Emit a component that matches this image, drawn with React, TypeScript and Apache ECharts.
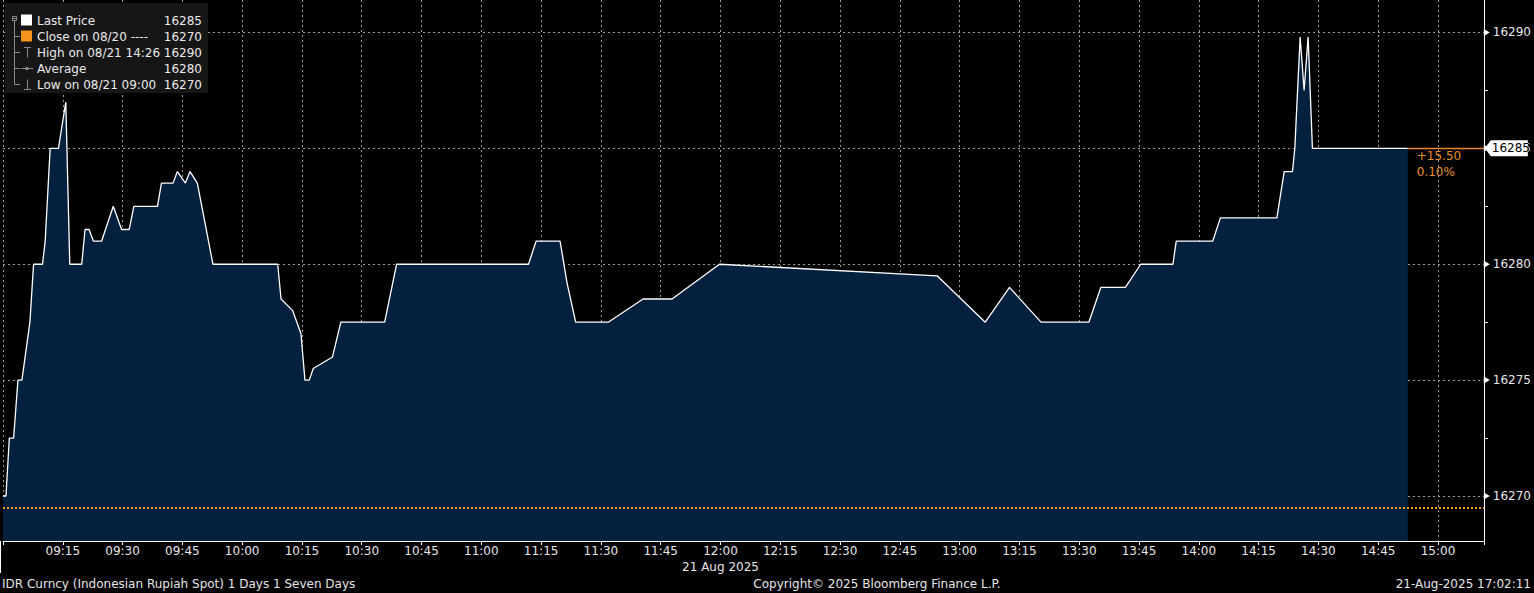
import React, { useEffect, useRef } from "react";
import * as echarts from "echarts";

// ---- data ----
const times = [
  "09:00:00", "09:00:45", "09:01:35", "09:02:40", "09:03:45", "09:04:45", "09:06:45", "09:07:40",
  "09:09:55", "09:10:35", "09:11:50", "09:13:55", "09:15:45", "09:16:45", "09:19:45", "09:20:35",
  "09:21:35", "09:22:40", "09:24:45", "09:27:40", "09:29:45", "09:31:40", "09:32:50", "09:38:45",
  "09:39:45", "09:42:40", "09:43:45", "09:45:45", "09:46:55", "09:48:45", "09:52:40", "10:08:55",
  "10:09:45", "10:12:40", "10:14:45", "10:15:45", "10:16:50", "10:17:50", "10:22:40", "10:24:45",
  "10:35:45", "10:38:45", "11:11:50", "11:13:45", "11:19:45", "11:21:30", "11:23:40", "11:31:50",
  "11:40:35", "11:47:50", "11:59:45", "12:54:20", "13:06:25", "13:12:30", "13:20:25", "13:32:25",
  "13:35:25", "13:41:35", "13:45:25", "13:53:30", "13:54:20", "14:03:30", "14:05:25", "14:19:35",
  "14:21:25", "14:23:30", "14:24:05", "14:25:25", "14:26:25", "14:27:25", "14:28:30", "14:52:25",
];
const prices = [
  16270, 16270, 16272.5, 16272.5, 16275, 16275, 16277.5, 16280,
  16280, 16281, 16285, 16285, 16287, 16280, 16280, 16281.5,
  16281.5, 16281, 16281, 16282.5, 16281.5, 16281.5, 16282.5, 16282.5,
  16283.5, 16283.5, 16284, 16283.5, 16284, 16283.5, 16280, 16280,
  16278.5, 16278, 16277, 16275, 16275, 16275.5, 16276, 16277.5,
  16277.5, 16280, 16280, 16281, 16281, 16279.2, 16277.5, 16277.5,
  16278.5, 16278.5, 16280, 16279.5, 16277.5, 16279, 16277.5, 16277.5,
  16279, 16279, 16280, 16280, 16281, 16281, 16282, 16282,
  16284, 16284, 16285, 16289.8, 16287.5, 16289.8, 16285, 16285,
];
const yTicks = [16270, 16275, 16280, 16285, 16290];
const yMinorTicks = [16272.5, 16277.5, 16282.5, 16287.5];
const closePrice = 16269.5;
const lastPrice = 16285;
const changeText = ["+15.50", "0.10%"];
const legendNames = ["Last Price", "Close on 08/20 ----", "High on 08/21 14:26", "Average", "Low on 08/21 09:00"];
const legendValues = ["16285", "16270", "16290", "16280", "16270"];
const dateLabel = "21 Aug 2025";
const footerLeft = "IDR Curncy (Indonesian Rupiah Spot) 1 Days 1 Seven Days";
const footerMid = "Copyright\u00a9 2025 Bloomberg Finance L.P.";
const footerRight = "21-Aug-2025 17:02:11";

const toMin = (t: string) => {
  const [h, m, s] = t.split(":").map(Number);
  return (h - 9) * 60 + m + (s || 0) / 60;
};
const fmtMin = (v: number) => {
  const h = 9 + Math.floor(v / 60);
  const m = Math.round(v % 60);
  return `${String(h).padStart(2, "0")}:${String(m).padStart(2, "0")}`;
};

const FONT = "DejaVu Sans";
const ORANGE = "#f39a2b";
const GRIDC = "#999999";

export default function App() {
  const ref = useRef<HTMLDivElement>(null);
  useEffect(() => {
    if (!ref.current) return;
    const chart = echarts.init(ref.current, null, { renderer: "svg" });
    const data = times.map((t, i) => [toMin(t), prices[i]]);
    const lastT = toMin(times[times.length - 1]);
    const xMax = 371.5;
    chart.setOption({
      animation: false,
      backgroundColor: "#000",
      grid: { left: 1, right: 47, top: 0, bottom: 52, containLabel: false },
      xAxis: {
        type: "value",
        min: 0,
        max: xMax,
        interval: 15,
        axisLine: { show: true, onZero: false, lineStyle: { color: "#fff", width: 1 } },
        axisTick: { show: true, length: 4, lineStyle: { color: "#fff" } },
        axisLabel: {
          color: "#e6e6e6",
          fontSize: 12,
          fontFamily: FONT,
          margin: 4,
          formatter: (v: number) => (v > 0 && Math.abs(v % 15) < 1e-6 ? fmtMin(v) : ""),
        },
        splitLine: { show: true, showMaxLine: false, lineStyle: { color: GRIDC, type: [2, 3], width: 1 } },
      },
      yAxis: {
        type: "value",
        position: "right",
        min: 16268.058,
        max: 16291.402,
        splitNumber: 5,
        minInterval: 5,
        maxInterval: 5,
        axisLine: { show: true, onZero: false, lineStyle: { color: "#fff", width: 1 } },
        axisTick: { show: false },
        axisLabel: {
          color: "#e6e6e6",
          fontSize: 12,
          fontFamily: FONT,
          margin: 9,
          formatter: (v: number) => (yTicks.some((t) => Math.abs(t - v) < 1e-6) ? String(Math.round(v)) : ""),
        },
        splitLine: { show: true, showMinLine: false, showMaxLine: false, lineStyle: { color: GRIDC, type: [2, 3], width: 1 } },
      },
      series: [
        {
          type: "line",
          data,
          showSymbol: false,
          symbol: "none",
          lineStyle: { color: "#ffffff", width: 1.3 },
          areaStyle: { color: "#03203f", opacity: 1, origin: "start" },
          z: 3,
          markLine: {
            silent: true,
            symbol: ["none", "none"],
            label: { show: false },
            data: [
              { yAxis: closePrice, lineStyle: { color: ORANGE, type: [2, 2], width: 2 } },
              [
                { coord: [lastT, lastPrice], lineStyle: { color: "#e8862a", type: "solid", width: 1.3 } },
                { coord: [xMax, lastPrice] },
              ],
            ],
          },
        },
      ],
    });

    const px = (x: number, y: number) => chart.convertToPixel({ gridIndex: 0 }, [x, y]) as number[];
    const axisX = px(xMax, lastPrice)[0];
    const bottomY = px(0, 16268.058)[1];
    const g: any[] = [];

    // y-axis tick triangles
    yTicks.forEach((t) => {
      const y = px(0, t)[1];
      g.push({
        type: "polygon",
        shape: { points: [[axisX, y - 3.5], [axisX + 6, y], [axisX, y + 3.5]] },
        style: { fill: "#fff" },
        z: 10,
      });
    });
    yMinorTicks.forEach((t) => {
      const y = Math.round(px(0, t)[1]) + 0.5;
      g.push({ type: "line", shape: { x1: axisX, y1: y, x2: axisX + 4, y2: y }, style: { stroke: "#fff", lineWidth: 1 }, z: 10 });
    });

    // last price tag
    const ly = px(0, lastPrice)[1];
    g.push({
      type: "polygon",
      shape: { points: [[axisX + 1, ly], [axisX + 7, ly - 8], [axisX + 44, ly - 8], [axisX + 44, ly + 8], [axisX + 7, ly + 8]] },
      style: { fill: "#ffffff" },
      z: 20,
    });
    g.push({
      type: "text",
      x: axisX + 8,
      y: ly,
      style: { text: String(lastPrice), fill: "#000", fontSize: 12, fontFamily: FONT, verticalAlign: "middle" },
      z: 21,
    });
    const lp = px(lastT, lastPrice);
    changeText.forEach((s, i) => {
      g.push({
        type: "text",
        x: lp[0] + 9,
        y: lp[1] + 8 + i * 16,
        style: { text: s, fill: "#e8922e", fontSize: 12, fontFamily: FONT, verticalAlign: "middle" },
        z: 20,
      });
    });

    // left day marker
    g.push({ type: "line", shape: { x1: 0.5, y1: bottomY, x2: 0.5, y2: bottomY + 32 }, style: { stroke: "#fff", lineWidth: 1 }, z: 10 });

    // date label under 12:00
    g.push({
      type: "text",
      x: px(180, lastPrice)[0],
      y: 567,
      style: { text: dateLabel, fill: "#e6e6e6", fontSize: 12, fontFamily: FONT, align: "center", verticalAlign: "middle" },
    });
    // footer
    g.push({ type: "text", x: 2, y: 584, style: { text: footerLeft, fill: "#e6e6e6", fontSize: 12, fontFamily: FONT, verticalAlign: "middle" } });
    g.push({ type: "text", x: 877, y: 584, style: { text: footerMid, fill: "#e6e6e6", fontSize: 12, fontFamily: FONT, align: "center", verticalAlign: "middle" } });
    g.push({ type: "text", x: 1531, y: 584, style: { text: footerRight, fill: "#e6e6e6", fontSize: 12, fontFamily: FONT, align: "right", verticalAlign: "middle" } });

    // legend box
    const rowsY = [20.5, 36.5, 52.5, 68.5, 84.5];
    g.push({ type: "rect", shape: { x: 5, y: 3, width: 203, height: 90 }, style: { fill: "#161616" }, z: 30 });
    const grey = "#8a8a8a";
    g.push({ type: "rect", shape: { x: 12.5, y: 16.5, width: 4, height: 4 }, style: { fill: "none", stroke: grey, lineWidth: 1 }, z: 31 });
    g.push({ type: "line", shape: { x1: 13, y1: 18.5, x2: 16, y2: 18.5 }, style: { stroke: grey, lineWidth: 1 }, z: 31 });
    g.push({ type: "line", shape: { x1: 14.5, y1: 21, x2: 14.5, y2: rowsY[4] }, style: { stroke: grey, lineWidth: 1 }, z: 31 });
    rowsY.slice(1).forEach((y) => {
      g.push({ type: "line", shape: { x1: 14.5, y1: y, x2: 20, y2: y }, style: { stroke: grey, lineWidth: 1 }, z: 31 });
    });
    g.push({ type: "rect", shape: { x: 21, y: rowsY[0] - 6, width: 11, height: 11 }, style: { fill: "#fff" }, z: 31 });
    g.push({ type: "rect", shape: { x: 21, y: rowsY[1] - 6, width: 11, height: 11 }, style: { fill: "#f7941d" }, z: 31 });
    // high marker
    g.push({ type: "line", shape: { x1: 27.5, y1: rowsY[2] - 5, x2: 27.5, y2: rowsY[2] + 5 }, style: { stroke: grey, lineWidth: 1 }, z: 31 });
    g.push({ type: "line", shape: { x1: 24, y1: rowsY[2] - 5, x2: 31, y2: rowsY[2] - 5 }, style: { stroke: grey, lineWidth: 1 }, z: 31 });
    // average marker
    g.push({ type: "line", shape: { x1: 21, y1: rowsY[3], x2: 33, y2: rowsY[3] }, style: { stroke: grey, lineWidth: 1 }, z: 31 });
    g.push({ type: "circle", shape: { cx: 27, cy: rowsY[3], r: 1.8 }, style: { fill: grey }, z: 31 });
    // low marker
    g.push({ type: "line", shape: { x1: 27.5, y1: rowsY[4] - 5, x2: 27.5, y2: rowsY[4] + 5 }, style: { stroke: grey, lineWidth: 1 }, z: 31 });
    g.push({ type: "line", shape: { x1: 24, y1: rowsY[4] + 5, x2: 31, y2: rowsY[4] + 5 }, style: { stroke: grey, lineWidth: 1 }, z: 31 });
    legendNames.forEach((n, i) => {
      g.push({ type: "text", x: 37, y: rowsY[i], style: { text: n, fill: "#eaeaea", fontSize: 12, fontFamily: FONT, verticalAlign: "middle" }, z: 32 });
      g.push({ type: "text", x: 202, y: rowsY[i], style: { text: legendValues[i], fill: "#eaeaea", fontSize: 12, fontFamily: FONT, align: "right", verticalAlign: "middle" }, z: 32 });
    });

    chart.setOption({ graphic: g });
    return () => chart.dispose();
  }, []);
  return <div ref={ref} style={{ position: "fixed", left: 0, top: 0, width: 1534, height: 593, background: "#000" }} />;
}
